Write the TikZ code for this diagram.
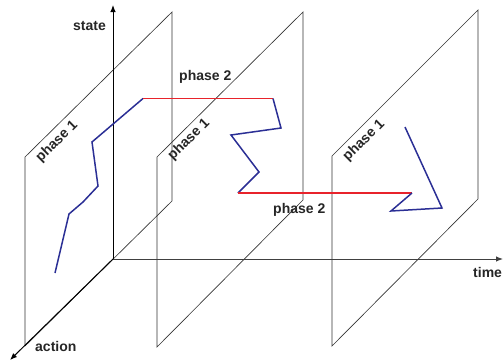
\documentclass[tikz,border=0pt]{standalone}
\usepackage{fontspec}
\setmainfont{Liberation Sans}
\usetikzlibrary{arrows.meta}
\definecolor{pathblue}{HTML}{2B2F95}
\definecolor{pathred}{HTML}{E8232B}
\begin{document}
\begin{tikzpicture}[x=1pt,y=-1pt,
  plane/.style={draw=black!80,line width=0.65pt},
  axis/.style={line width=1pt,-{Latex[length=7pt,width=5.5pt]}},
  traj/.style={pathblue,line width=1.5pt,line join=miter},
  jump/.style={pathred,line width=1.5pt},
  lbl/.style={font=\fontsize{14}{16}\selectfont\bfseries,text=black!85,inner sep=0pt},
  rlbl/.style={lbl,rotate=44.6,anchor=center}]
\useasboundingbox (0,0) rectangle (504,362);
% planes
\draw[plane] (25,157) -- (172,12) -- (172,201) -- (25,346) -- cycle;
\draw[plane] (157,157) -- (303,12) -- (303,200) -- (157,347) -- cycle;
\draw[plane] (332,156) -- (478,10) -- (478,199) -- (332,346) -- cycle;
% axes
\coordinate (o) at (113,259);
\coordinate (stateend) at (113,5);
\coordinate (timeend) at (503,259);
\coordinate (actionend) at (10,360);
\draw[axis,black] (o) -- (stateend);
\draw[axis,black!75] (o) -- (timeend);
\draw[axis,black] (o) -- (actionend);
% trajectories
\coordinate (a0) at (55,273);
\coordinate (a1) at (143,98.5);
\coordinate (b0) at (273,98.5);
\coordinate (b1) at (238,193);
\coordinate (c0) at (412,193);
\draw[traj] (a0) -- (69,214) -- (83,202) -- (98,186) -- (92,142) -- (a1);
\draw[jump] (a1) -- (b0);
\draw[traj] (b0) -- (281,128) -- (231,135) -- (259,172) -- (b1);
\draw[jump] (b1) -- (c0);
\draw[traj] (c0) -- (391,211) -- (442,208) -- (405,127);
% labels
\node[lbl,anchor=base west] (state) at (73,30) {state};
\node[lbl,anchor=base west] (time) at (473,277) {time};
\node[lbl,anchor=base west] (action) at (35,351) {action};
\node[lbl,anchor=base west] (ph2a) at (179,80.5) {phase 2};
\node[lbl,anchor=base west] (ph2b) at (273,213) {phase 2};
\node[rlbl] (ph1a) at (57,142) {phase 1};
\node[rlbl] (ph1b) at (189,140) {phase 1};
\node[rlbl] (ph1c) at (364,141) {phase 1};
\end{tikzpicture}
\end{document}
